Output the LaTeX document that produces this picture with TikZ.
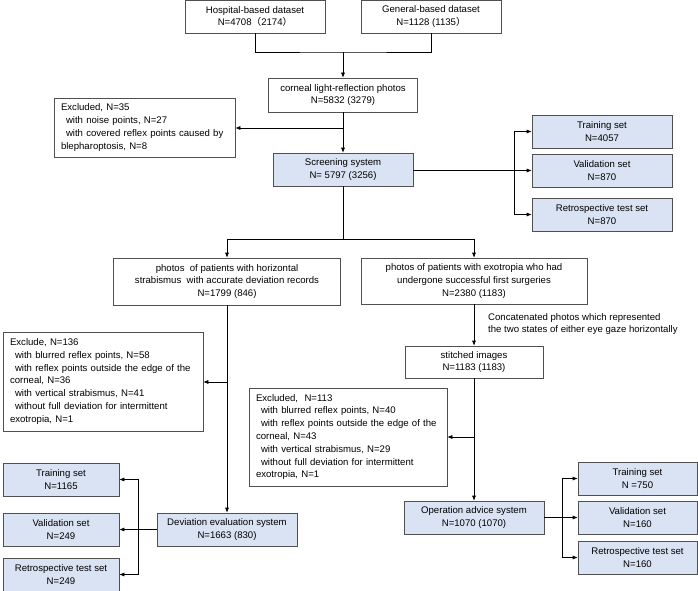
\documentclass[tikz,border=0pt]{standalone}
\usepackage{fontspec}
\setmainfont{Liberation Sans}
\newfontfamily\cjk{Noto Sans CJK SC}
\usetikzlibrary{arrows.meta}
\definecolor{boxfill}{HTML}{DAE3F3}
\definecolor{boxline}{HTML}{505050}
\tikzset{
  bx/.style={draw=boxline, line width=0.6pt, align=center, inner sep=1pt,
    font=\fontsize{9.6}{12.8}\selectfont},
  blue/.style={bx, fill=boxfill},
  exbox/.style={bx, align=left, inner xsep=7pt, inner ysep=2pt},
  arr/.style={-{Latex[length=5pt,width=4pt]}, line width=0.6pt},
  ln/.style={line width=0.6pt},
  lbl/.style={font=\fontsize{9.6}{12.8}\selectfont, align=left, inner sep=0pt}
}
\newcommand{\ind}{\hspace*{5pt}}
\begin{document}
\begin{tikzpicture}[x=1pt,y=-1pt]
\useasboundingbox (0,0) rectangle (698,591);
% top
\node[bx, minimum width=140pt, minimum height=33pt] (hosp) at (255,16.5) {Hospital-based dataset\\N=4708{\cjk （}2174{\cjk ）}};
\node[bx, minimum width=140pt, minimum height=33pt] (gen) at (431,16.5) {General-based dataset\\N=1128 (1135{\cjk ）}};
\node[bx, minimum width=149pt, minimum height=34pt] (corn) at (343,95) {corneal light-reflection photos\\N=5832 (3279)};
\node[exbox, text width=167pt, minimum height=59pt] (ex1) at (144.5,127.5) {Excluded, N=35\\\ind with noise points, N=27\\\ind with covered reflex points caused by\\blepharoptosis, N=8};
\node[blue, minimum width=140pt, minimum height=33pt] (scr) at (343,169.5) {Screening system\\N= 5797 (3256)};
\node[blue, minimum width=140pt, minimum height=33pt] (tr1) at (602,131.5) {Training set\\N=4057};
\node[blue, minimum width=140pt, minimum height=33pt] (va1) at (602,170.5) {Validation set\\N=870};
\node[blue, minimum width=140pt, minimum height=33pt] (re1) at (602,214.5) {Retrospective test set\\N=870};
% middle
\node[bx, minimum width=227pt, minimum height=47pt] (phL) at (227,281.5) {photos\ \ of patients with horizontal\\strabismus\ \ with accurate deviation records\\N=1799 (846)};
\node[bx, minimum width=226pt, minimum height=46pt] (phR) at (474,281) {photos of patients with exotropia who had\\undergone successful first surgeries\\N=2380 (1183)};
\node[lbl, anchor=west] (cap) at (488,324) {Concatenated photos which represented\\the two states of either eye gaze horizontally};
\node[exbox, text width=186pt, minimum height=99pt] (ex2) at (103,381.5) {Exclude, N=136\\\ind with blurred reflex points, N=58\\\ind with reflex points outside the edge of the\\corneal, N=36\\\ind with vertical strabismus, N=41\\\ind without full deviation for intermittent\\exotropia, N=1};
\node[bx, minimum width=138pt, minimum height=32pt] (sti) at (474,362) {stitched images\\N=1183 (1183)};
\node[exbox, text width=184pt, minimum height=98pt] (ex3) at (348,437) {Excluded,\ \ N=113\\\ind with blurred reflex points, N=40\\\ind with reflex points outside the edge of the\\corneal, N=43\\\ind with vertical strabismus, N=29\\\ind without full deviation for intermittent\\exotropia, N=1};
% bottom
\node[blue, minimum width=140pt, minimum height=33pt] (dev) at (227,529.5) {Deviation evaluation system\\N=1663 (830)};
\node[blue, minimum width=116pt, minimum height=33pt] (tr2) at (61,479.5) {Training set\\N=1165};
\node[blue, minimum width=116pt, minimum height=33pt] (va2) at (61,529.5) {Validation set\\N=249};
\node[blue, minimum width=116pt, minimum height=33pt] (re2) at (61,574.5) {Retrospective test set\\N=249};
\node[blue, minimum width=140pt, minimum height=33pt] (op) at (474,517.5) {Operation advice system\\N=1070 (1070)};
\node[blue, minimum width=119pt, minimum height=33pt] (tr3) at (637.5,478.5) {Training set\\N =750};
\node[blue, minimum width=119pt, minimum height=33pt] (va3) at (637.5,517.5) {Validation set\\N=160};
\node[blue, minimum width=119pt, minimum height=33pt] (re3) at (637.5,557.5) {Retrospective test set\\N=160};
% coordinates
\coordinate (j0) at (343,52);
\coordinate (b1) at (343,128);
\coordinate (s1) at (514,170);
\coordinate (j1) at (343,239);
\coordinate (b2) at (227,382);
\coordinate (b3) at (474,437);
\coordinate (s2) at (138,529.5);
\coordinate (s3) at (562,517.5);
% connectors
\draw[ln] (hosp.south) |- (j0) -| (gen.south);
\draw[arr] (j0) -- (corn.north);
\draw[arr] (corn.south) -- (scr.north);
\draw[arr] (b1) -- (b1 -| ex1.east);
\draw[arr] (scr.east |- va1.west) -- (va1.west);
\draw[arr] (s1) |- (tr1.west);
\draw[arr] (s1) |- (re1.west);
\draw[ln] (scr.south) -- (j1);
\draw[arr] (j1) -| (phL.north);
\draw[arr] (j1) -| (phR.north);
\draw[arr] (phL.south) -- (dev.north);
\draw[arr] (b2) -- (b2 -| ex2.east);
\draw[arr] (phR.south) -- (sti.north);
\draw[arr] (sti.south) -- (op.north);
\draw[arr] (b3) -- (b3 -| ex3.east);
\draw[arr] (dev.west) -- (va2.east);
\draw[arr] (s2) |- (tr2.east);
\draw[arr] (s2) |- (re2.east);
\draw[arr] (op.east) -- (va3.west);
\draw[arr] (s3) |- (tr3.west);
\draw[arr] (s3) |- (re3.west);
\end{tikzpicture}
\end{document}
